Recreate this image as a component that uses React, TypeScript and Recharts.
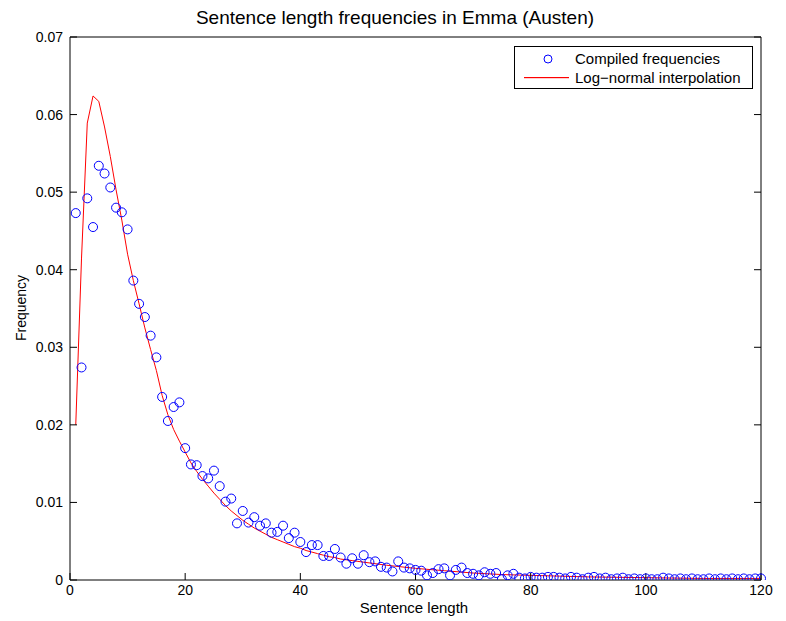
import { ComposedChart, Scatter, Line, XAxis, YAxis } from 'recharts';

// sentence lengths 1..120
const lengths = Array.from({ length: 120 }, (_, i) => i + 1);

const frequencies = [
  0.0473, 0.0274, 0.0492, 0.0455, 0.0534, 0.0524, 0.0506, 0.0480, 0.0474, 0.0452,
  0.0386, 0.0356, 0.0339, 0.0315, 0.0287, 0.0236, 0.0205, 0.0223, 0.0229, 0.0170,
  0.0149, 0.0148, 0.0134, 0.0131, 0.0141, 0.0121, 0.0101, 0.0105, 0.0073, 0.0089,
  0.0074, 0.0081, 0.0070, 0.0073, 0.0061, 0.0062, 0.0070, 0.0054, 0.0061, 0.0049,
  0.0036, 0.0045, 0.0045, 0.0031, 0.0031, 0.0040, 0.0029, 0.0021, 0.0028, 0.0021,
  0.0032, 0.0023, 0.0024, 0.0017, 0.0016, 0.0011, 0.0024, 0.0016, 0.0015, 0.0013,
  0.0012, 0.0006, 0.0009, 0.0014, 0.0015, 0.0006, 0.0013, 0.0016, 0.0009, 0.0008,
  0.0006, 0.0010, 0.0008, 0.0009, 0.0001, 0.0006, 0.0008, 0.0003, 0.0002, 0.0004,
  0.0003, 0.0003, 0.0004, 0.0004, 0.0003, 0.0002, 0.0004, 0.0003, 0.0001, 0.0003,
  0.0004, 0.0002, 0.0003, 0.0001, 0.0002, 0.0003, 0.0001, 0.0002, 0.0001, 0.0002,
  0.0001, 0.0001, 0.0003, 0.0002, 0.0001, 0.0002, 0.0001, 0.0002, 0.0001, 0.0001,
  0.0002, 0.0001, 0.0002, 0.0001, 0.0002, 0.0001, 0.0002, 0.0001, 0.0002, 0.0002,
];

// log-normal curve
const fitLengths = [
  1, 2, 3, 4, 5, 6, 7, 8, 9, 10, 11, 12, 13, 14, 15, 16, 17, 18, 19, 20,
  21, 22, 23, 24, 25, 26, 27, 28, 29, 30, 31, 32, 33, 34, 35, 36, 37, 38, 39, 40,
  41, 42, 43, 44, 45, 46, 47, 48, 49, 50, 55, 60, 65, 70, 75, 80, 85, 90, 100, 110, 120,
];
const fitValues = [
  0.0200, 0.0415, 0.0589, 0.0624, 0.0617, 0.0584, 0.0546, 0.0503, 0.0464, 0.0420,
  0.0386, 0.0356, 0.0325, 0.0297, 0.0270, 0.0238, 0.0213, 0.0194, 0.0179, 0.0165,
  0.0151, 0.0140, 0.0130, 0.0121, 0.0112, 0.0104, 0.0096, 0.0089, 0.0083, 0.0077,
  0.0072, 0.0067, 0.0063, 0.0059, 0.0055, 0.0052, 0.0049, 0.0046, 0.0043, 0.0041,
  0.0038, 0.0036, 0.0034, 0.0032, 0.0030, 0.0029, 0.0027, 0.0026, 0.0025, 0.0024,
  0.0019, 0.0015, 0.0012, 0.0009, 0.0007, 0.0006, 0.0005, 0.0004, 0.0003, 0.0002, 0.0002,
];

const xTicks = [0, 20, 40, 60, 80, 100, 120];
const yTicks = [0, 0.01, 0.02, 0.03, 0.04, 0.05, 0.06, 0.07];

const points = lengths.map((x, i) => ({ x, y: frequencies[i] }));
const curve = fitLengths.map((x, i) => ({ x, y: fitValues[i] }));

const font = '"Liberation Sans", Arial, Helvetica, sans-serif';
const blank = () => '';

const Ring = (p: any) => (
  <circle cx={p.cx} cy={p.cy} r={4.5} fill="none" stroke="#0000ff" strokeWidth={1} />
);

export default function App() {
  return (
    <div style={{ position: 'absolute', left: 0, top: 0, width: 786, height: 621, background: '#fff', fontFamily: font }}>
      <ComposedChart width={786} height={621} margin={{ top: 36, right: 24, bottom: 0, left: 0 }}>
        <XAxis xAxisId="b" dataKey="x" type="number" domain={[0, 120]} ticks={xTicks} height={41}
          tickSize={-7} tickMargin={12} stroke="#000" tick={{ fill: '#000', fontSize: 14, fontFamily: font }} />
        <XAxis xAxisId="t" orientation="top" dataKey="x" type="number" domain={[0, 120]} ticks={xTicks} height={1}
          tickSize={-7} tickFormatter={blank} stroke="#000" />
        <YAxis yAxisId="l" dataKey="y" type="number" domain={[0, 0.07]} ticks={yTicks} width={70}
          tickSize={-7} tickMargin={14} stroke="#000" allowDataOverflow
          tickFormatter={(v: number) => (v === 0 ? '0' : v.toFixed(2))}
          tick={{ fill: '#000', fontSize: 14, fontFamily: font }} />
        <YAxis yAxisId="r" orientation="right" dataKey="y" type="number" domain={[0, 0.07]} ticks={yTicks} width={1}
          tickSize={-7} tickFormatter={blank} stroke="#000" allowDataOverflow />
        <Scatter xAxisId="b" yAxisId="l" data={points} dataKey="y" shape={Ring} isAnimationActive={false} />
        <Line xAxisId="b" yAxisId="l" data={curve} dataKey="y" type="linear" stroke="#ff0000" strokeWidth={1}
          dot={false} activeDot={false} isAnimationActive={false} />
        <text x={395} y={24} textAnchor="middle" fontSize={19} fontFamily={font} fill="#000">
          Sentence length frequencies in Emma (Austen)
        </text>
        <text x={414} y={613} textAnchor="middle" fontSize={15} fontFamily={font} fill="#000">
          Sentence length
        </text>
        <text x={26} y={308} textAnchor="middle" fontSize={14} fontFamily={font} fill="#000"
          transform="rotate(-90, 26, 308)">
          Frequency
        </text>
      </ComposedChart>
      <div style={{ position: 'absolute', left: 514, top: 46, width: 237, height: 41, border: '1px solid #000',
        background: '#fff', fontSize: 15, color: '#000', lineHeight: '19px' }}>
        <svg style={{ position: 'absolute', left: 0, top: 0 }} width={60} height={41}>
          <circle cx={33} cy={12} r={4} fill="none" stroke="#0000ff" strokeWidth={1} />
          <rect x={9} y={30} width={45} height={1.2} fill="#ff0000" />
        </svg>
        <span style={{ position: 'absolute', left: 60, top: 2 }}>Compiled frequencies</span>
        <span style={{ position: 'absolute', left: 60, top: 21 }}>Log−normal interpolation</span>
      </div>
    </div>
  );
}
